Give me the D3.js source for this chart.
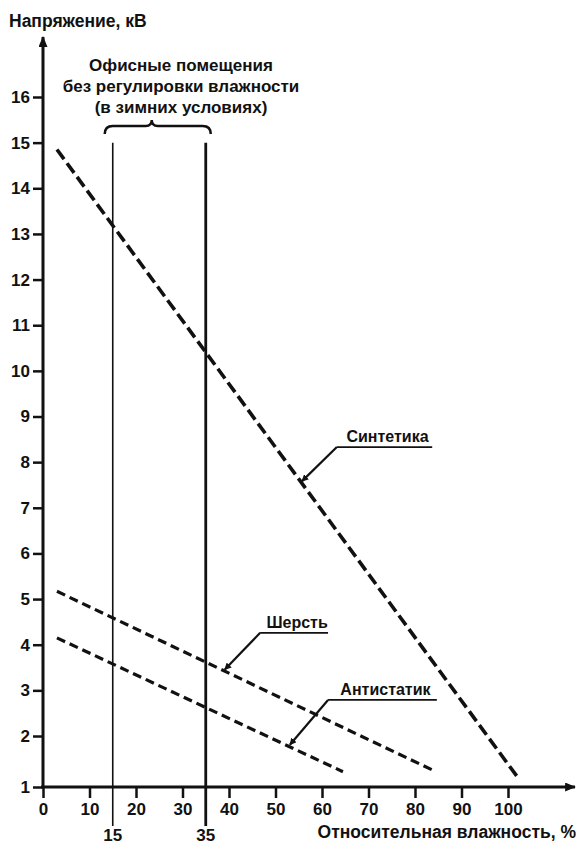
<!DOCTYPE html>
<html lang="ru">
<head>
<meta charset="utf-8">
<title>Напряжение — влажность</title>
<script src="https://cdn.jsdelivr.net/npm/d3@7"></script>
<style>
  body { margin: 0; background: #fff; }
  svg text { font-family: "Liberation Sans", Arial, sans-serif; font-weight: bold; fill: #111; }
</style>
</head>
<body>
<svg id="chart" width="576" height="845"></svg>
<script>
// данные
var humidityTicks = [0, 10, 20, 30, 40, 50, 60, 70, 80, 90, 100];
var voltageTicks = [1, 2, 3, 4, 5, 6, 7, 8, 9, 10, 11, 12, 13, 14, 15, 16];
var zoneBounds = [15, 35];
var zoneText = ["Офисные помещения", "без регулировки влажности", "(в зимних условиях)"];

var synthHum = [3, 102];
var synthVolt = [14.85, 1.2];
var woolHum = [3, 84.5];
var woolVolt = [5.17, 1.3];
var antiHum = [3, 64.5];
var antiVolt = [4.15, 1.3];

// подписи: точка стрелки (влажность на линии) и начало/конец полки
var labelNames = ["Синтетика", "Шерсть", "Антистатик"];
var labelArrowHum = [55.7, 39.1, 53.1];
var labelShelfHum = [[63.2, 83.7], [46.7, 61.3], [61.3, 84.7]];
var labelShelfVolt = [8.33, 4.26, 2.79];

var svg = d3.select("#chart");

var x = d3.scaleLinear().domain([0, 100]).range([43, 508]);
// шкала по оси Y: единица чуть ниже равномерного шага
var y = d3.scaleLinear().domain([1, 2, 16]).range([787, 736, 97]);

svg.append("defs").append("marker")
  .attr("id", "arr")
  .attr("viewBox", "0 0 10 10")
  .attr("refX", 9).attr("refY", 5)
  .attr("markerWidth", 7).attr("markerHeight", 7)
  .attr("markerUnits", "userSpaceOnUse")
  .attr("orient", "auto")
  .append("path").attr("d", "M0,0L10,5L0,10z").attr("fill", "#111");

svg.append("defs").append("marker")
  .attr("id", "axarr")
  .attr("viewBox", "0 0 12 10")
  .attr("refX", 11).attr("refY", 5)
  .attr("markerWidth", 14).attr("markerHeight", 9)
  .attr("markerUnits", "userSpaceOnUse")
  .attr("orient", "auto")
  .append("path").attr("d", "M0,0L12,5L0,10z").attr("fill", "#111");

// оси
svg.append("line")
  .attr("x1", x(0)).attr("y1", y(1))
  .attr("x2", x(0)).attr("y2", 37)
  .attr("stroke", "#111").attr("stroke-width", 3)
  .attr("marker-end", "url(#axarr)");

svg.append("line")
  .attr("x1", x(0) - 2).attr("y1", y(1))
  .attr("x2", 575).attr("y2", y(1))
  .attr("stroke", "#111").attr("stroke-width", 3)
  .attr("marker-end", "url(#axarr)");

var yAxis = d3.axisLeft(y).tickValues(voltageTicks).tickSize(10).tickPadding(3).tickFormat(d3.format("d"));
var gy = svg.append("g").attr("transform", "translate(" + x(0) + ",0)").call(yAxis);
gy.select(".domain").remove();
gy.selectAll(".tick line").attr("stroke", "#111").attr("stroke-width", 2.5);
gy.selectAll(".tick text").style("font-size", "17px");

var xAxis = d3.axisBottom(x).tickValues(humidityTicks).tickSize(11).tickPadding(5).tickFormat(d3.format("d"));
var gx = svg.append("g").attr("transform", "translate(0," + y(1) + ")").call(xAxis);
gx.select(".domain").remove();
gx.selectAll(".tick line").attr("stroke", "#111").attr("stroke-width", 2.5);
gx.selectAll(".tick text").style("font-size", "17px");

// зона офисных помещений
svg.selectAll(".zone")
  .data(zoneBounds)
  .enter().append("line")
  .attr("class", "zone")
  .attr("x1", function (d) { return x(d); })
  .attr("x2", function (d) { return x(d); })
  .attr("y1", y(15))
  .attr("y2", 826)
  .attr("stroke", "#111")
  .attr("stroke-width", function (d, i) { return i === 0 ? 1.6 : 2.8; });

svg.selectAll(".zoneTick")
  .data(zoneBounds)
  .enter().append("text")
  .attr("class", "zoneTick")
  .attr("x", function (d) { return x(d); })
  .attr("y", 841)
  .attr("text-anchor", "middle")
  .style("font-size", "17px")
  .text(function (d) { return d; });

// фигурная скобка
var bx0 = x(zoneBounds[0]) - 8, bx1 = x(zoneBounds[1]) + 5, bm = (bx0 + bx1) / 2 - 6;
svg.append("path")
  .attr("d", "M" + bx0 + ",134 Q" + bx0 + ",126 " + (bx0 + 8) + ",126 L" + (bm - 6) + ",126 Q" + bm + ",126 " + bm + ",120" +
    " Q" + bm + ",126 " + (bm + 6) + ",126 L" + (bx1 - 8) + ",126 Q" + bx1 + ",126 " + bx1 + ",134")
  .attr("fill", "none").attr("stroke", "#111").attr("stroke-width", 2.5);

svg.selectAll(".zoneText")
  .data(zoneText)
  .enter().append("text")
  .attr("class", "zoneText")
  .attr("x", 181)
  .attr("y", function (d, i) { return 71 + i * 21; })
  .attr("text-anchor", "middle")
  .style("font-size", "17px")
  .text(function (d) { return d; });

// заголовки осей
svg.append("text").attr("x", 9).attr("y", 27).style("font-size", "17.5px").text("Напряжение, кВ");
svg.append("text").attr("x", 576).attr("y", 838).attr("text-anchor", "end").style("font-size", "17.5px")
  .text("Относительная влажность, %");

// линии материалов
var line = d3.line().x(function (d) { return x(d[0]); }).y(function (d) { return y(d[1]); });
var series = [
  { hum: synthHum, volt: synthVolt, dash: "12,5", w: 3.6 },
  { hum: woolHum, volt: woolVolt, dash: "9,5", w: 3.2 },
  { hum: antiHum, volt: antiVolt, dash: "9,5", w: 3.2 }
];
series.forEach(function (s) {
  svg.append("path")
    .datum(d3.zip(s.hum, s.volt))
    .attr("d", line)
    .attr("fill", "none")
    .attr("stroke", "#111")
    .attr("stroke-width", s.w)
    .attr("stroke-dasharray", s.dash);
});

// подписи с выносками
function voltAt(s, h) {
  return d3.scaleLinear().domain(s.hum).range(s.volt)(h);
}
labelNames.forEach(function (name, i) {
  var s = series[i];
  var sx0 = x(labelShelfHum[i][0]), sx1 = x(labelShelfHum[i][1]), sy = y(labelShelfVolt[i]);
  var ax = x(labelArrowHum[i]), ay = y(voltAt(s, labelArrowHum[i]));
  svg.append("line")
    .attr("x1", sx0).attr("y1", sy).attr("x2", ax).attr("y2", ay)
    .attr("stroke", "#111").attr("stroke-width", 2.2)
    .attr("marker-end", "url(#arr)");
  svg.append("line")
    .attr("x1", sx0).attr("y1", sy).attr("x2", sx1).attr("y2", sy)
    .attr("stroke", "#111").attr("stroke-width", 1.8);
  svg.append("text")
    .attr("x", (sx0 + sx1) / 2 + 3).attr("y", sy - 5)
    .attr("text-anchor", "middle")
    .style("font-size", "16px")
    .text(name);
});
</script>
</body>
</html>
